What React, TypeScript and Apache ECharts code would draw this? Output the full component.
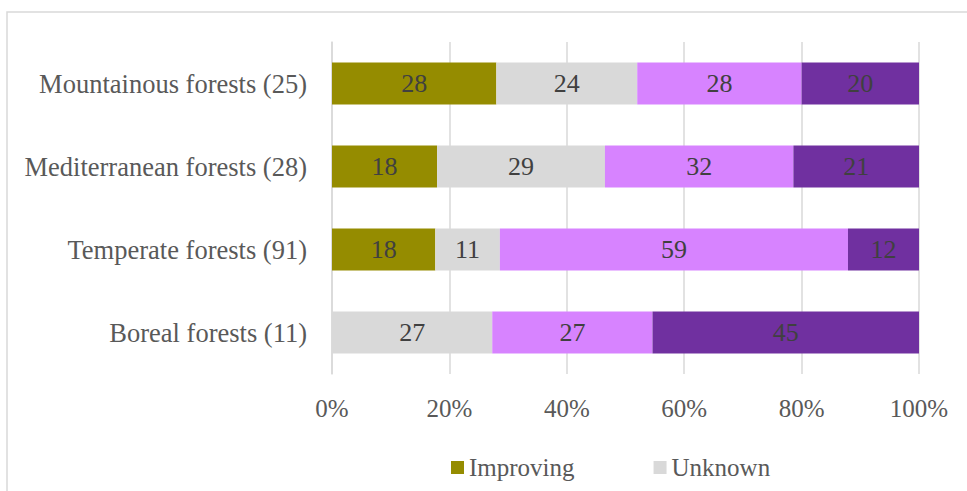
import React, { useEffect, useRef } from "react";
import * as echarts from "echarts";

const categories = [
  "Mountainous forests (25)",
  "Mediterranean forests (28)",
  "Temperate forests (91)",
  "Boreal forests (11)",
];
const improving = [28, 17.9, 17.6, 0];
const unknown = [24, 28.6, 11.0, 27.3];
const stable = [28, 32.1, 59.3, 27.3];
const deteriorating = [20, 21.4, 12.1, 45.4];
const xTicks = [0, 20, 40, 60, 80, 100];

const FONT = "'Liberation Serif', 'Times New Roman', serif";

export default function App() {
  const ref = useRef<HTMLDivElement>(null);
  useEffect(() => {
    if (!ref.current) return;
    const chart = echarts.init(ref.current, null, { renderer: "svg" });
    const label = {
      show: true,
      position: "inside",
      color: "#404040",
      fontFamily: FONT,
      fontSize: 26,
      formatter: (p: any) => (p.value > 0 ? String(Math.round(p.value)) : ""),
    };
    const mk = (name: string, data: number[], color: string) => ({
      name,
      type: "bar",
      stack: "total",
      data,
      barWidth: 42,
      itemStyle: { color },
      label,
    });
    chart.setOption({
      animation: false,
      grid: { left: 332, right: 48, top: 42, height: 332 },
      graphic: [
        {
          type: "rect",
          shape: { x: 7, y: 12, width: 1200, height: 1200 },
          style: { fill: "none", stroke: "#D9D9D9", lineWidth: 1.5 },
          silent: true,
        },
      ],
      legend: {
        data: ["Improving", "Unknown"],
        left: 446,
        top: 450,
        itemWidth: 13,
        itemHeight: 13,
        itemGap: 79,
        icon: "rect",
        textStyle: { color: "#595959", fontFamily: FONT, fontSize: 25 },
      },
      xAxis: {
        type: "value",
        min: 0,
        max: 100,
        interval: 20,
        axisLine: { show: false },
        axisTick: { show: false },
        splitLine: { show: true, lineStyle: { color: "#D9D9D9", width: 1.5 } },
        axisLabel: {
          color: "#595959",
          fontFamily: FONT,
          fontSize: 25,
          margin: 22,
          formatter: (v: number) => (xTicks.includes(v) ? v + "%" : ""),
        },
      },
      yAxis: {
        type: "category",
        inverse: true,
        data: categories,
        axisLine: { show: true, lineStyle: { color: "#D9D9D9", width: 1.5 } },
        axisTick: { show: false },
        axisLabel: {
          color: "#595959",
          fontFamily: FONT,
          fontSize: 26.5,
          margin: 25,
        },
      },
      series: [
        mk("Improving", improving, "#958C00"),
        mk("Unknown", unknown, "#D9D9D9"),
        mk("Stable", stable, "#D783FF"),
        mk("Deteriorating", deteriorating, "#7030A0"),
      ],
    });
    return () => chart.dispose();
  }, []);
  return (
    <div
      ref={ref}
      style={{ position: "fixed", left: 0, top: 0, width: 967, height: 491, background: "#fff" }}
    />
  );
}
